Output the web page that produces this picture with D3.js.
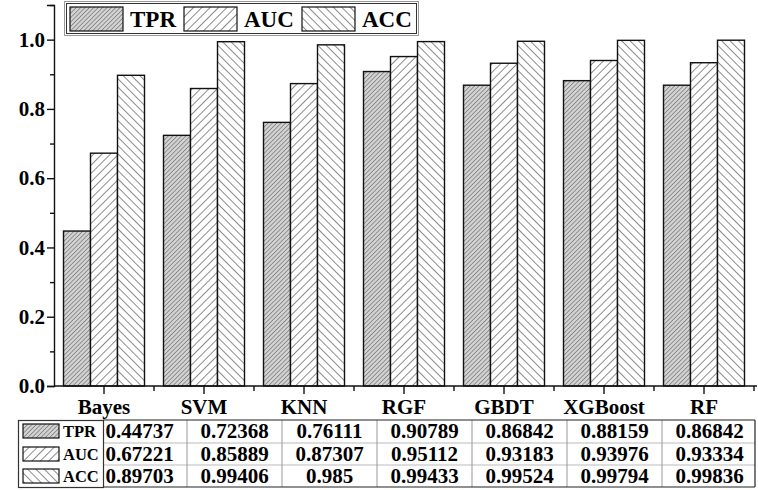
<!DOCTYPE html>
<html>
<head>
<meta charset="utf-8">
<script src="https://cdn.jsdelivr.net/npm/d3@7"></script>
<style>
  body { margin:0; background:#fff; }
</style>
</head>
<body>
<div id="chart"></div>
<script>
const categories = ['Bayes','SVM','KNN','RGF','GBDT','XGBoost','RF'];
const seriesNames = ['TPR','AUC','ACC'];
const tpr = [0.44737,0.72368,0.76111,0.90789,0.86842,0.88159,0.86842];
const auc = [0.67221,0.85889,0.87307,0.95112,0.93183,0.93976,0.93334];
const acc = [0.89703,0.99406,0.985,0.99433,0.99524,0.99794,0.99836];
const yTicks = [0,0.2,0.4,0.6,0.8,1.0];

const W = 758, H = 490;
const FONT = "'Liberation Serif','Times New Roman','DejaVu Serif',serif";
const values = { TPR:tpr, AUC:auc, ACC:acc };

const svg = d3.select('#chart').append('svg').attr('width',W).attr('height',H)
  .style('font-family',FONT);
const defs = svg.append('defs');

function hatch(id, bg, spacing, angle, sw, col){
  const p = defs.append('pattern').attr('id',id).attr('patternUnits','userSpaceOnUse')
    .attr('width',spacing).attr('height',spacing).attr('patternTransform',`rotate(${angle})`);
  p.append('rect').attr('width',spacing).attr('height',spacing).attr('fill',bg);
  p.append('line').attr('x1',0).attr('y1',0).attr('x2',0).attr('y2',spacing).attr('stroke',col).attr('stroke-width',sw);
}
hatch('pTPR','#d2d2d2',3.1,45,0.8,'#333');
hatch('pAUC','#fff',5.9,45,1,'#1a1a1a');
hatch('pACC','#fff',5.9,-45,1,'#1a1a1a');
const fill = { TPR:'url(#pTPR)', AUC:'url(#pAUC)', ACC:'url(#pACC)' };

const y = d3.scaleLinear().domain([0,1.1]).range([386, 5]);
const x0 = d3.scaleBand().domain(categories).range([54,754]).paddingInner(0.19).paddingOuter(0.095);
const x1 = d3.scaleBand().domain(seriesNames).range([0, x0.bandwidth()]);

// bars
const groups = svg.append('g').selectAll('g').data(categories).enter().append('g')
  .attr('transform', d=>`translate(${x0(d)},0)`);
groups.selectAll('rect').data((c,i)=>seriesNames.map(s=>({s, v:values[s][i]}))).enter().append('rect')
  .attr('x', d=>x1(d.s)).attr('y', d=>y(d.v)).attr('width', x1.bandwidth()).attr('height', d=>y(0)-y(d.v))
  .attr('fill', d=>fill[d.s]).attr('stroke','#111').attr('stroke-width',1.4);

function txt(sel, size){
  return sel.style('font-family',FONT).style('font-weight','bold').style('font-size',size).attr('fill','#000');
}

// y axis
const ya = svg.append('g').attr('transform','translate(54,0)')
  .call(d3.axisLeft(y).tickValues(yTicks).tickSize(7).tickFormat(d3.format('.1f')));
ya.select('.domain').attr('stroke','#111').attr('stroke-width',1.4);
ya.selectAll('.tick line').attr('stroke','#111').attr('stroke-width',1.4);
txt(ya.selectAll('text').attr('x',-9), '21px');
svg.append('g').attr('transform','translate(54,0)')
  .call(d3.axisLeft(y).tickValues([0.1,0.3,0.5,0.7,0.9,1.1]).tickSize(4).tickFormat(''))
  .call(g=>{ g.select('.domain').remove(); g.selectAll('line').attr('stroke','#111').attr('stroke-width',1.4); });

// x axis
svg.append('line').attr('x1',54).attr('x2',757).attr('y1',386).attr('y2',386).attr('stroke','#111').attr('stroke-width',1.4);
const xa = svg.append('g').attr('transform','translate(0,386)')
  .call(d3.axisBottom(x0).tickSize(8).tickPadding(5));
xa.select('.domain').remove();
xa.selectAll('.tick line').attr('stroke','#111').attr('stroke-width',1.4);
txt(xa.selectAll('text'), '21px');
const bounds = categories.slice(1).map(c=>x0(c) - x0.step()*x0.paddingInner()/2).concat([754]);
svg.append('g').selectAll('line').data(bounds).enter().append('line')
  .attr('x1',d=>d).attr('x2',d=>d).attr('y1',386).attr('y2',391).attr('stroke','#111').attr('stroke-width',1.4);

// top legend
const lg = svg.append('g');
lg.append('rect').attr('x',64.5).attr('y',1.5).attr('width',354).attr('height',34).attr('fill','#fff').attr('stroke','#999').attr('stroke-width',1);
lg.append('rect').attr('x',66.5).attr('y',3.5).attr('width',350).attr('height',30).attr('fill','none').attr('stroke','#333').attr('stroke-width',1);
const legX = [70,184,302];
seriesNames.forEach((s,i)=>{
  lg.append('rect').attr('x',legX[i]).attr('y',7).attr('width',53).attr('height',24)
    .attr('fill',fill[s]).attr('stroke','#111').attr('stroke-width',1.2);
  txt(lg.append('text').attr('x',legX[i]+60).attr('y',27), '23px').text(s);
});

// table
const rowTop = [420,443,465], rowBottom = 487;
const colW = 95, colStart = 92;
const tbl = svg.append('g');
[443,465].forEach(yy=> tbl.append('line').attr('x1',103).attr('x2',755).attr('y1',yy).attr('y2',yy).attr('stroke','#bbb').attr('stroke-width',1));
categories.slice(1).forEach((c,i)=>{
  const xx = colStart + colW*(i+1);
  tbl.append('line').attr('x1',xx).attr('x2',xx).attr('y1',420).attr('y2',rowBottom).attr('stroke','#999').attr('stroke-width',1);
});
tbl.append('line').attr('x1',103).attr('x2',755).attr('y1',420).attr('y2',420).attr('stroke','#222').attr('stroke-width',1.2);
tbl.append('line').attr('x1',103).attr('x2',755).attr('y1',rowBottom).attr('y2',rowBottom).attr('stroke','#222').attr('stroke-width',1.2);
tbl.append('line').attr('x1',755).attr('x2',755).attr('y1',420).attr('y2',rowBottom).attr('stroke','#222').attr('stroke-width',1.2);
seriesNames.forEach((s,r)=>{
  categories.forEach((c,i)=>{
    txt(tbl.append('text').attr('x',colStart + colW*i + colW/2).attr('y',rowTop[r]+18)
      .attr('text-anchor','middle'), '21px').text(String(values[s][i]));
  });
});
// table legend box
tbl.append('rect').attr('x',18.5).attr('y',420.5).attr('width',85).attr('height',67).attr('fill','#fff').attr('stroke','#333').attr('stroke-width',1.2);
seriesNames.forEach((s,r)=>{
  tbl.append('rect').attr('x',23).attr('y',rowTop[r]+4).attr('width',36).attr('height',14)
    .attr('fill',fill[s]).attr('stroke','#111').attr('stroke-width',1.2);
  txt(tbl.append('text').attr('x',63).attr('y',rowTop[r]+17), '16.5px').text(s);
});
</script>
</body>
</html>
